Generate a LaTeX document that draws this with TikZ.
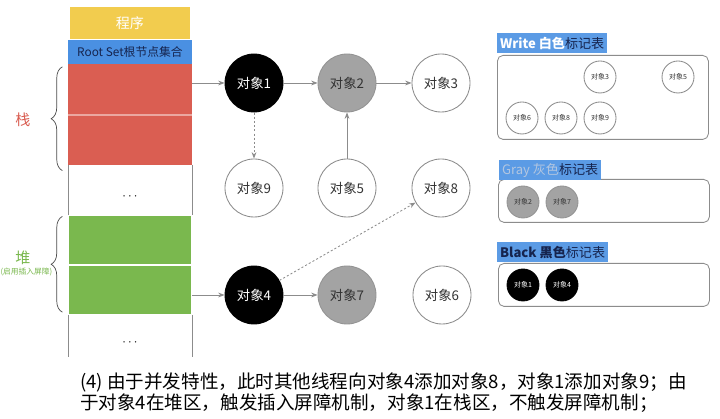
\documentclass[tikz,border=0pt]{standalone}
\usepackage{fontspec}
\setmainfont{Noto Sans CJK SC}
\usepackage{tikz}
\usetikzlibrary{arrows.meta,positioning,calc,decorations.pathreplacing}
\definecolor{progyel}{RGB}{242,204,78}
\definecolor{rootblu}{RGB}{74,144,226}
\definecolor{stkred}{RGB}{218,94,82}
\definecolor{heapgrn}{RGB}{122,184,78}
\definecolor{hdrblu}{RGB}{91,155,229}
\definecolor{navy}{RGB}{22,36,78}
\definecolor{gtxt}{RGB}{178,198,224}
\definecolor{objgray}{RGB}{163,163,163}
\definecolor{lnk}{RGB}{140,140,140}
\newcommand{\fs}[1]{\fontsize{#1}{#1}\selectfont}
\tikzset{
  cell/.style={minimum width=3.1cm, inner sep=0pt, outer sep=0pt},
  obj/.style={circle, draw=lnk, line width=0.6pt, minimum size=1.45cm, inner sep=0pt, fill=white, text=black!80, font=\fs{9.5}},
  wobj/.style={obj},
  gobj/.style={obj, fill=objgray, draw=objgray!90!black},
  bobj/.style={obj, fill=black, draw=black, text=white},
  mini/.style={minimum size=0.8cm, font=\fs{5}},
  arr/.style={-{Stealth[length=1.6mm,width=1.2mm]}, draw=lnk, line width=0.6pt},
  darr/.style={arr, dash pattern=on 1.5pt off 1.5pt},
  tab/.style={draw=lnk, rounded corners=4pt, line width=0.6pt, anchor=north west, minimum width=5.275cm, inner sep=0pt},
  hdr/.style={fill=hdrblu, anchor=west, minimum height=0.5cm, inner sep=2pt, font=\fs{9.3}, text=navy}}

\begin{document}
\begin{tikzpicture}
  \useasboundingbox (0,0) rectangle (18,10.475);
  \fill[white] (0,0) rectangle (18,10.475);
  % program / root set / stack / heap column
  \node[cell, fill=progyel, minimum width=3.0cm, minimum height=0.8cm, text=white, font=\fs{10}] (prog) at (3.25,9.9) {程序};
  \node[cell, fill=rootblu, minimum height=0.6cm, text=navy, font=\fs{8.4}] (root) at (3.25,9.175) {Root Set根节点集合};
  \node[cell, fill=stkred, minimum height=1.275cm, below=0pt of root] (stk1) {};
  \node[cell, fill=stkred, minimum height=1.25cm, below=0pt of stk1] (stk2) {};
  \node[cell, minimum height=1.25cm, below=0pt of stk2] (gap1) {};
  \node[cell, fill=heapgrn, draw=white, line width=0.8pt, minimum height=1.25cm, below=0pt of gap1] (hp1) {};
  \node[cell, fill=heapgrn, draw=white, line width=0.8pt, minimum height=1.25cm, below=0pt of hp1] (hp2) {};
  \node[cell, minimum height=1.05cm, below=0pt of hp2] (gap2) {};
  \node[font=\fs{9}] (dots1) at ([yshift=-5pt]gap1.center) {$\cdots$};
  \node[font=\fs{9}] (dots2) at ([yshift=-5pt]gap2.center) {$\cdots$};
  \draw[stkred!55!white, line width=0.8pt] (stk1.south west) -- (stk1.south east);
  \foreach \g in {gap1,gap2} \draw[lnk, line width=0.6pt] (\g.north west) -- (\g.south west) (\g.north east) -- (\g.south east);
  % braces
  \draw[decorate, decoration={brace, amplitude=8pt}, black!70, line width=0.5pt] ([xshift=-4pt,yshift=-4pt]stk2.south west) -- ([xshift=-4pt,yshift=-2pt]stk1.north west);
  \draw[decorate, decoration={brace, amplitude=8pt}, black!70, line width=0.5pt] ([xshift=-4pt,yshift=2pt]hp2.south west) -- ([xshift=-4pt,yshift=-1pt]hp1.north west);
  \node[text=stkred, font=\fs{10.7}] (stklbl) at (0.575,7.475) {栈};
  \node[text=heapgrn, font=\fs{10.7}] (heaplbl) at (0.575,4.025) {堆};
  \node[text=heapgrn, font=\fs{5.5}, inner sep=0pt] (heapnote) at (0.66,3.675) {(启用插入屏障)};
  % objects
  \node[bobj] (o1) at (6.35,8.4) {对象1};
  \node[gobj] (o2) at (8.675,8.4) {对象2};
  \node[wobj] (o3) at (11.025,8.4) {对象3};
  \node[wobj] (o9) at (6.35,5.775) {对象9};
  \node[wobj] (o5) at (8.675,5.775) {对象5};
  \node[wobj] (o8) at (11.025,5.775) {对象8};
  \node[bobj] (o4) at (6.35,3.1) {对象4};
  \node[gobj] (o7) at (8.675,3.1) {对象7};
  \node[wobj] (o6) at (11.05,3.1) {对象6};
  \draw[arr] (stk1.east |- o1) -- (o1);
  \draw[arr] (hp2.east |- o4) -- (o4);
  \foreach \a/\b in {o1/o2, o2/o3, o5/o2, o4/o7} \draw[arr] (\a) -- (\b);
  \foreach \a/\b in {o1/o9, o4/o8} \draw[darr] (\a) -- (\b);
  % mark tables
  \node[tab, minimum height=2.1cm] (wtab) at (12.425,9.1) {};
  \node[tab, minimum height=1.075cm] (gtab) at (12.45,6.0) {};
  \node[tab, minimum height=1.075cm] (btab) at (12.45,3.9) {};
  \node[hdr] (whdr) at (12.425,9.4) {\textcolor{white}{\textbf{Write 白色}}标记表};
  \node[hdr] (ghdr) at (12.475,6.2125) {\textcolor{gtxt}{Gray 灰色}标记表};
  \node[hdr] (bhdr) at (12.425,4.1625) {\textbf{Black 黑色}标记表};
  \node[wobj, mini] (w3) at (15.0,8.55) {对象3};
  \node[wobj, mini] (w5) at (16.95,8.55) {对象5};
  \node[wobj, mini] (w6) at (13.05,7.525) {对象6};
  \node[wobj, mini] (w8) at (14.025,7.525) {对象8};
  \node[wobj, mini] (w9) at (15.0,7.525) {对象9};
  \node[gobj, mini] (g2) at (13.075,5.425) {对象2};
  \node[gobj, mini] (g7) at (14.05,5.425) {对象7};
  \node[bobj, mini] (b1) at (13.075,3.35) {对象1};
  \node[bobj, mini] (b4) at (14.05,3.35) {对象4};
  % caption
  \node[anchor=west, align=left, inner sep=0pt, font=\fontsize{13.2}{14.9}\selectfont] (cap) at (2.0,0.6625) {(4) 由于并发特性，此时其他线程向对象4添加对象8，对象1添加对象9；由\\于对象4在堆区，触发插入屏障机制，对象1在栈区，不触发屏障机制；};
\end{tikzpicture}
\end{document}
